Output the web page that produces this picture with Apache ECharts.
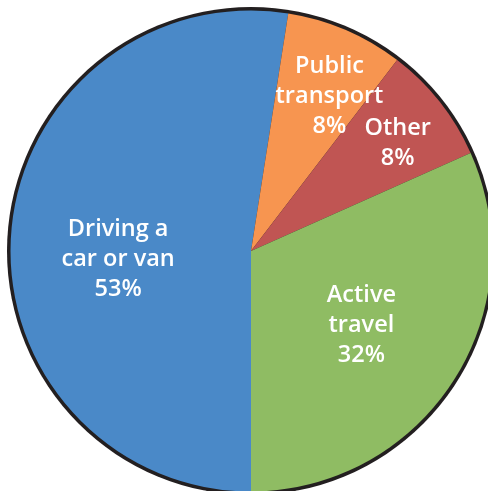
<!DOCTYPE html>
<html><head><meta charset="utf-8">
<script src="https://cdn.jsdelivr.net/npm/echarts@6/dist/echarts.min.js"></script>
<style>html,body{margin:0;padding:0;background:#fff}#c{width:488px;height:491px}</style>
</head><body><div id="c"></div>
<script>
const categories = ["Driving a\ncar or van", "Public\ntransport", "Other", "Active\ntravel"];
const values = [53, 8, 8, 32];
const colors = ["#4a89c8", "#f79550", "#c05553", "#8fbc63"];
const labelShift = [[-10, 18], [30, -41], [50, -31], [7, 7]];

const chart = echarts.init(document.getElementById('c'));
chart.setOption({
  animation: false,
  series: [
    {
      type: 'pie', silent: true,
      center: [251, 251], radius: 244,
      startAngle: 270, clockwise: true,
      data: [{value: 1}], label: {show: false},
      itemStyle: {color: '#231f20'}
    },
    {
      type: 'pie', silent: true,
      center: [251, 251], radius: 240.5,
      startAngle: 270, clockwise: true,
      avoidLabelOverlap: false,
      itemStyle: {borderWidth: 0},
      label: {
        position: 'inner',
        formatter: p => p.name + '\n' + p.value + '%',
        color: '#fff', fontFamily: 'Open Sans', fontWeight: 600, fontSize: 23.5, lineHeight: 30, align: 'center'
      },
      labelLine: {show: false},
      labelLayout: p => ({dx: labelShift[p.dataIndex][0], dy: labelShift[p.dataIndex][1], hideOverlap: false}),
      data: categories.map((n, i) => ({name: n, value: values[i], itemStyle: {color: colors[i]}}))
    }
  ]
});
</script></body></html>
